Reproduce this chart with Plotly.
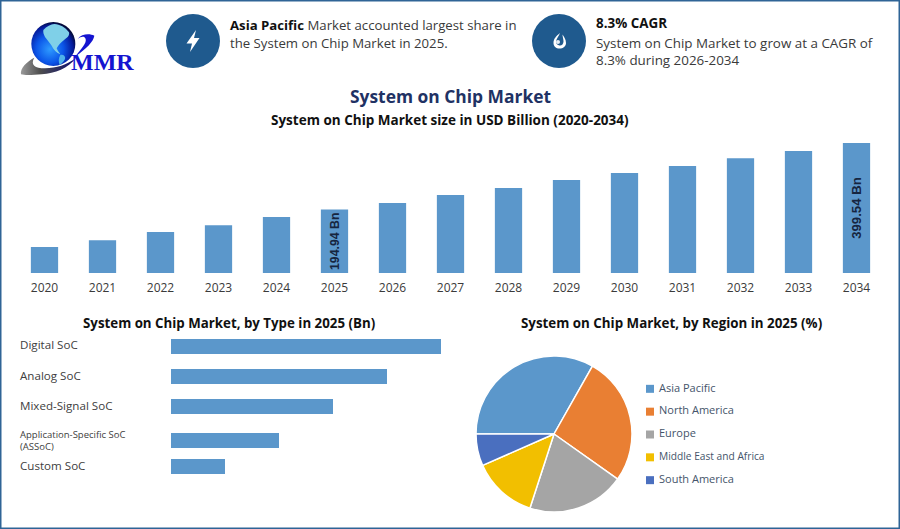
import base64
import plotly.graph_objects as go

W, H = 900, 529

years = ["2020","2021","2022","2023","2024","2025","2026","2027","2028","2029","2030","2031","2032","2033","2034"]
market_size = [80, 101, 126, 147, 172, 194.94, 215, 240, 261, 286, 307, 329, 353, 375, 399.54]
size_labels = ["", "", "", "", "", "<b>194.94 Bn</b>", "", "", "", "", "", "", "", "", "<b>399.54 Bn</b>"]

types = ["Digital SoC", "Analog SoC", "Mixed-Signal SoC", "Application-Specific SoC<br>(ASSoC)", "Custom SoC"]
type_values = [100, 80, 60, 40, 20]

regions = ["Asia Pacific", "North America", "Europe", "Middle East and Africa", "South America"]
region_share = [33.2, 26.6, 20.2, 13.4, 6.6]
region_colors = ["#5B97CB", "#E97F33", "#A5A5A5", "#F2BF00", "#4A6FBF"]

BAR = "#5B97CB"
FONT = "Open Sans"
TXT = "#3A3A3A"


def px(x):
    return x / W


def py(y):
    return 1 - y / H


svg = f'''<svg xmlns="http://www.w3.org/2000/svg" width="{W}" height="{H}" viewBox="0 0 {W} {H}">
<defs>
<radialGradient id="g" cx="0.42" cy="0.62" r="0.62">
<stop offset="0" stop-color="#2E9BFF"/><stop offset="0.5" stop-color="#0B55E8"/>
<stop offset="0.85" stop-color="#051A9A"/><stop offset="1" stop-color="#030A38"/></radialGradient>
<linearGradient id="s" x1="0" y1="0" x2="1" y2="0">
<stop offset="0" stop-color="#9A9A9A"/><stop offset="0.35" stop-color="#4E4E4E"/><stop offset="0.7" stop-color="#2A2A60"/><stop offset="1" stop-color="#0A0A70"/></linearGradient>
</defs>
<rect x="0.75" y="0.75" width="{W-1.5}" height="{H-1.5}" fill="#fff" stroke="#2F6496" stroke-width="1.5"/>
<g transform="translate(15 15) scale(0.33333)">
<path d="M18 178 C15 160 35 140 58 128 C45 150 60 160 90 160 C125 160 155 150 182 130 C160 160 120 175 80 178 C55 180 30 182 18 178Z" fill="url(#s)"/>
<circle cx="115" cy="87" r="66" fill="url(#g)"/>
<path d="M85 45 C95 34 108 28 118 27 C135 28 150 36 162 52 C165 62 155 70 148 74 C138 82 130 90 125 100 C128 108 132 112 136 118 C125 114 115 104 110 92 C104 84 96 74 90 66 C86 58 84 52 85 45Z" fill="#7FD0E8"/>
<path d="M136 120 C146 118 152 124 150 132 C146 140 140 146 134 150 C130 140 130 130 136 120Z" fill="#4FB2EA"/>
<path d="M188 72 C200 55 225 55 238 62 C235 80 215 100 180 125 C200 100 215 85 212 72 C208 62 198 65 188 72Z" fill="#1414D0"/>
</g>
<circle cx="193" cy="41" r="27" fill="#1F5A8E"/>
<path d="M196 30 L186.5 43.5 L192 43.5 L190 52 L199.5 38 L194 38Z" fill="#fff"/>
<circle cx="559" cy="41" r="27" fill="#1F5A8E"/>
<path fill-rule="evenodd" d="M560 33 C556 36 553.5 39 553.5 43 C553.5 46.5 556 48.5 559.5 48.5 C563 48.5 566 46.5 566 43 C566 39 563.5 36.5 562.5 34.5 C562.5 37 563.5 39 563.5 41.5 C563.5 44 561.5 46 559.5 45.5 C557.5 45 556 44 556 42 C556 39 559 36 560 33Z" fill="#fff"/>
<circle cx="558" cy="42" r="2" fill="#E8EEF4"/>
</svg>'''
svg_uri = "data:image/svg+xml;base64," + base64.b64encode(svg.encode()).decode()

fig = go.Figure()

fig.add_trace(go.Bar(
    x=years, y=market_size, text=size_labels, width=0.47,
    marker=dict(color=BAR, line=dict(width=0)),
    textposition="inside", insidetextanchor="middle", textangle=-90,
    insidetextfont=dict(family="Liberation Sans", size=13.2, color="#16253F"),
    xaxis="x", yaxis="y", showlegend=False,
))

fig.add_trace(go.Bar(
    y=types, x=type_values, orientation="h", width=0.5,
    offset=[-0.25, -0.25, -0.25, -0.117, -0.25],
    marker=dict(color=BAR, line=dict(width=0)),
    xaxis="x2", yaxis="y2", showlegend=False,
))

fig.add_trace(go.Pie(
    labels=regions, values=region_share, sort=False, direction="clockwise", rotation=270,
    marker=dict(colors=region_colors, line=dict(color="#FFFFFF", width=1.5)),
    textinfo="none", showlegend=False,
    domain=dict(x=[px(476), px(632)], y=[py(512), py(356)]),
))

fig.add_trace(go.Scatter(
    x=[0] * len(regions), y=regions, mode="markers", cliponaxis=False,
    marker=dict(symbol="square", size=8, color=region_colors),
    xaxis="x3", yaxis="y3", showlegend=False,
))
fig.add_trace(go.Scatter(
    x=[9] * len(regions), y=regions, mode="text", text=regions,
    textposition="middle right", cliponaxis=False,
    textfont=dict(family=FONT, size=[11, 11, 11, 10.2, 11], color="#44546A"),
    xaxis="x3", yaxis="y3", showlegend=False,
))

annotations = []


def note(x, y, text, size=13, color=TXT, anchor="left", family=FONT):
    annotations.append(dict(
        x=px(x - (2 if anchor == "left" else 0)), y=py(y), xref="paper", yref="paper",
        text=text, showarrow=False,
        xanchor=anchor, yanchor="middle", align="left",
        font=dict(family=family, size=size, color=color),
    ))


note(230, 25, "<b style='color:#111'>Asia Pacific</b> Market accounted largest share in", size=13.2)
note(230, 43, "the System on Chip Market in 2025.", size=13.2)
note(596, 23, "<b>8.3% CAGR</b>", size=13.4, color="#111")
note(596, 43, "System on Chip Market to grow at a CAGR of", size=13.4)
note(596, 60, "8.3% during 2026-2034", size=13.4)
note(450, 96.5, "<b>System on Chip Market</b>", size=17.4, color="#1F3264", anchor="center")
note(450, 120, "<b>System on Chip Market size in USD Billion (2020-2034)</b>", size=13.5, color="#111", anchor="center")
note(228.5, 323, "<b>System on Chip Market, by Type in 2025 (Bn)</b>", size=13.3, color="#111", anchor="center")
note(671, 323, "<b>System on Chip Market, by Region in 2025 (%)</b>", size=13.35, color="#111", anchor="center")
note(71, 62, "<b>MMR</b>", size=24, color="#1414D0", family="Liberation Serif")

label_y = [344.5, 375.5, 405.5, 440.5, 465.5]
label_size = [11.6, 11.6, 11.6, 9.5, 11.6]
for name, y, s in zip(types, label_y, label_size):
    note(20, y, name, size=s, color="#404040")

fig.update_layout(
    width=W, height=H, autosize=False,
    margin=dict(l=0, r=0, t=0, b=0),
    paper_bgcolor="#FFFFFF", plot_bgcolor="rgba(0,0,0,0)",
    annotations=annotations,
    images=[dict(source=svg_uri, xref="paper", yref="paper", x=0, y=1, sizex=1, sizey=1,
                 sizing="stretch", xanchor="left", yanchor="top", layer="below")],
    xaxis=dict(domain=[px(15.5), px(885.5)], anchor="y", type="category", showgrid=False, showline=False,
               ticks="", ticklabelstandoff=6, tickfont=dict(family=FONT, size=12, color=TXT)),
    yaxis=dict(domain=[py(273), py(143)], range=[0, 399.54], visible=False),
    xaxis2=dict(domain=[px(171), px(441)], anchor="y2", range=[0, 100], visible=False),
    yaxis2=dict(domain=[py(481.5), py(331.5)], anchor="x2", type="category",
                autorange="reversed", visible=False),
    xaxis3=dict(domain=[px(640), px(800)], anchor="y3", range=[-10, 150], visible=False),
    yaxis3=dict(domain=[py(490.8), py(378.2)], anchor="x3", type="category",
                autorange="reversed", visible=False),
)

fig.write_html("out.html", config=dict(displayModeBar=False),
               post_script="document.body.style.margin='0';")
